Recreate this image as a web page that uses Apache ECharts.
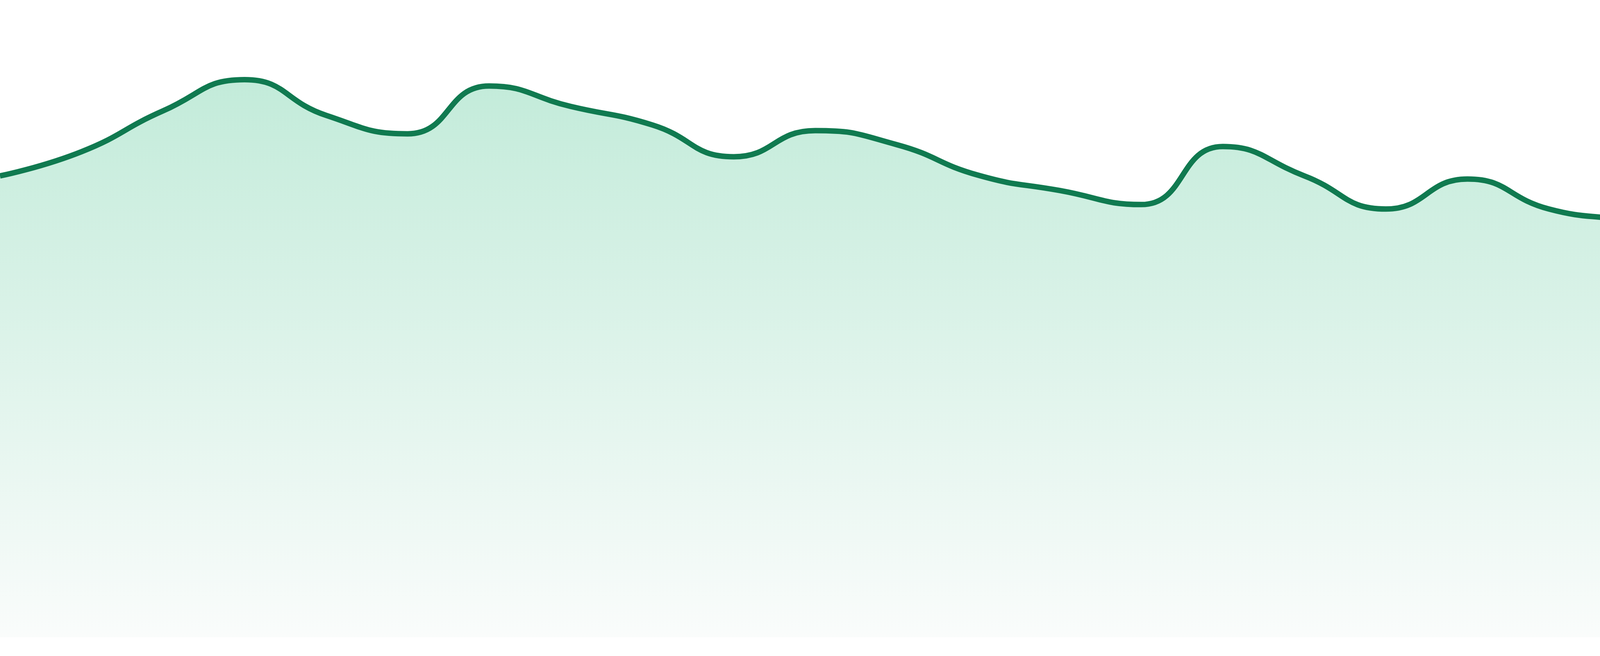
<!DOCTYPE html>
<html>
<head>
<meta charset="utf-8">
<title>chart</title>
<script src="https://cdn.jsdelivr.net/npm/echarts@6/dist/echarts.min.js"></script>
<style>
  html, body { margin: 0; padding: 0; background: #fff; }
  #main { width: 4800px; height: 1680px; }
</style>
</head>
<body>
<div id="main"></div>
<script>
// categories (no labels shown in the picture)
var days = ['1', '2', '3', '4', '5', '6', '7', '8', '9', '10', '11', '12',
  '13', '14', '15', '16', '17', '18', '19', '20', '21', '22', '23', '24'];

// values, 0-100 scale
var values = [72.4, 76.2, 82.6, 87.5, 81.9, 79.0, 86.5, 83.3, 80.4, 75.4, 79.5, 77.3,
  72.5, 70.1, 67.9, 77.0, 72.4, 67.2, 71.9, 67.2, 65.2, 62.1, 64.2, 63.4];

var chart = echarts.init(document.getElementById('main'), null, { renderer: 'canvas' });

var option = {
  animation: false,
  grid: { left: 0, right: 0, top: 0, bottom: 48 },
  tooltip: { show: false },
  xAxis: {
    type: 'category',
    boundaryGap: false,
    data: days,
    show: false
  },
  yAxis: {
    type: 'value',
    min: 0,
    max: 100,
    show: false,
    splitLine: { show: false }
  },
  series: [
    {
      type: 'line',
      data: values,
      smooth: true,
      showSymbol: false,
      lineStyle: { width: 14, color: '#107a50' },
      areaStyle: {
        color: new echarts.graphic.LinearGradient(0, 0, 0, 1, [
          { offset: 0, color: '#a8e2c9' },
          { offset: 1, color: '#f7faf9' }
        ])
      }
    }
  ]
};

chart.setOption(option);
</script>
</body>
</html>
